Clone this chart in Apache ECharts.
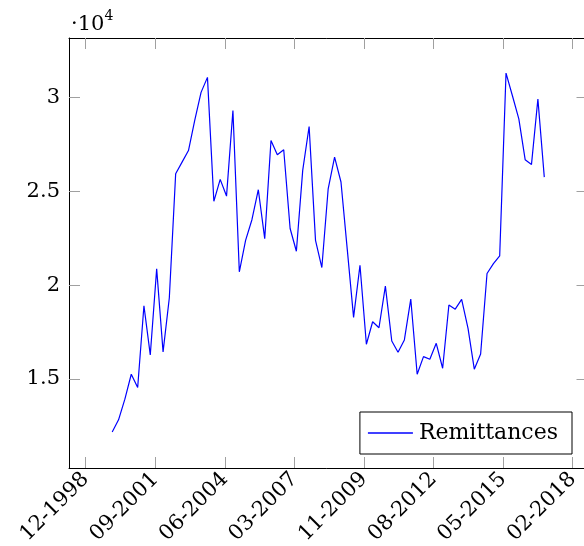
<!DOCTYPE html>
<html><head><meta charset="utf-8">
<script src="https://cdn.jsdelivr.net/npm/echarts@6/dist/echarts.min.js"></script>
<style>html,body{margin:0;padding:0;background:#fff}#c{width:584px;height:546px}</style>
</head><body><div id="c"></div>
<script>
// ---- data ----
const quarters = [
  '2000-01-01','2000-04-01','2000-07-01','2000-10-01',
  '2001-01-01','2001-04-01','2001-07-01','2001-10-01',
  '2002-01-01','2002-04-01','2002-07-01','2002-10-01',
  '2003-01-01','2003-04-01','2003-07-01','2003-10-01',
  '2004-01-01','2004-04-01','2004-07-01','2004-10-01',
  '2005-01-01','2005-04-01','2005-07-01','2005-10-01',
  '2006-01-01','2006-04-01','2006-07-01','2006-10-01',
  '2007-01-01','2007-04-01','2007-07-01','2007-10-01',
  '2008-01-01','2008-04-01','2008-07-01','2008-10-01',
  '2009-01-01','2009-04-01','2009-07-01','2009-10-01',
  '2010-01-01','2010-04-01','2010-07-01','2010-10-01',
  '2011-01-01','2011-04-01','2011-07-01','2011-10-01',
  '2012-01-01','2012-04-01','2012-07-01','2012-10-01',
  '2013-01-01','2013-04-01','2013-07-01','2013-10-01',
  '2014-01-01','2014-04-01','2014-07-01','2014-10-01',
  '2015-01-01','2015-04-01','2015-07-01','2015-10-01',
  '2016-01-01','2016-04-01','2016-07-01','2016-10-01',
  '2017-01-01'
];
const remittances = [
  12170,12820,13920,15250,
  14540,18900,16280,20870,
  16440,19330,25940,26560,
  27180,28790,30280,31080,
  24470,25640,24750,29310,
  20710,22390,23490,25090,
  22480,27710,26950,27220,
  23020,21810,26120,28460,
  22390,20940,25140,26830,
  25500,21920,18280,21060,
  16850,18050,17730,19950,
  17020,16420,17080,19260,
  15250,16190,16050,16900,
  15570,18940,18720,19240,
  17700,15520,16330,20620,
  21150,21560,31310,30100,
  28870,26690,26440,29930,
  25760
];
const seriesName = 'Remittances';
const xTickLabels = ['12-1998','09-2001','06-2004','03-2007','11-2009','08-2012','05-2015','02-2018'];
const xTickStart = '1998-12-16';
const xTickStepDays = 1000;
const yTickValues = [15000, 20000, 25000, 30000];
const yTickLabels = ['1.5', '2', '2.5', '3'];
const yMultiplierBase = '·10';
const yMultiplierExp = '4';

// ---- build ----
const DAY = 86400000;
const t0 = Date.parse(xTickStart + 'T00:00:00Z');
const xTickValues = xTickLabels.map((_, i) => t0 + i * xTickStepDays * DAY);
const xs = quarters.map(d => Date.parse(d + 'T00:00:00Z'));
const span = xs[xs.length - 1] - xs[0];
const xMin = xs[0] - 0.1 * span, xMax = xs[xs.length - 1] + 0.1 * span;
const FONT = '"DejaVu Serif", serif';
const tickStyle = { color: '#a0a0a0', width: 1 };
const lineAxis = { show: true, onZero: false, lineStyle: { color: '#000', width: 1 } };

const xLabel = v => { const i = xTickValues.findIndex(t => Math.abs(t - v) < DAY); return i >= 0 ? xTickLabels[i] : ''; };
const yLabel = v => { const i = yTickValues.findIndex(t => Math.abs(t - v) < 1); return i >= 0 ? yTickLabels[i] : ''; };

const chart = echarts.init(document.getElementById('c'), null, { renderer: 'canvas' });
chart.setOption({
  animation: false,
  backgroundColor: '#fff',
  grid: { left: 69, top: 38, width: 518.5, height: 430, containLabel: false, outerBoundsMode: 'none' },
  xAxis: [
    { type: 'value', min: xMin, max: xMax, position: 'bottom', axisLine: lineAxis,
      axisTick: { show: true, inside: true, length: 11, customValues: xTickValues, lineStyle: tickStyle },
      axisLabel: { show: true, customValues: xTickValues, rotate: 45, margin: 8, formatter: xLabel,
        fontFamily: FONT, fontSize: 21, color: '#000' },
      splitLine: { show: false } },
    { type: 'value', min: xMin, max: xMax, position: 'top', axisLine: lineAxis,
      axisTick: { show: true, inside: true, length: 11, customValues: xTickValues, lineStyle: tickStyle },
      axisLabel: { show: false }, splitLine: { show: false } }
  ],
  yAxis: [
    { type: 'value', min: 10250, max: 33180, position: 'left', axisLine: lineAxis,
      axisTick: { show: true, inside: true, length: 11, customValues: yTickValues, lineStyle: tickStyle },
      axisLabel: { show: true, customValues: yTickValues, margin: 9, formatter: yLabel,
        fontFamily: FONT, fontSize: 21, color: '#000' },
      splitLine: { show: false } },
    { type: 'value', min: 10250, max: 33180, position: 'right', axisLine: lineAxis,
      axisTick: { show: true, inside: true, length: 11, customValues: yTickValues, lineStyle: tickStyle },
      axisLabel: { show: false }, splitLine: { show: false } }
  ],
  legend: {
    data: [{ name: seriesName, icon: 'rect' }], right: 12, top: 412, orient: 'horizontal',
    itemWidth: 45, itemHeight: 1.3, itemGap: 0,
    itemStyle: { color: '#0000ff', borderWidth: 0 },
    borderColor: '#000', borderWidth: 1, borderRadius: 0, backgroundColor: '#fff',
    padding: [10, 14, 10, 8],
    textStyle: { fontFamily: FONT, fontSize: 22, color: '#000', padding: [0, 0, 0, 1] }
  },
  graphic: [
    { type: 'text', left: 71, top: 14, style: { text: yMultiplierBase, font: '21px ' + FONT, fill: '#000' } },
    { type: 'text', left: 104.5, top: 9, style: { text: yMultiplierExp, font: '14px ' + FONT, fill: '#000' } }
  ],
  series: [{
    name: seriesName, type: 'line', xAxisIndex: 0, yAxisIndex: 0,
    data: xs.map((t, i) => [t, remittances[i]]),
    symbol: 'none', showSymbol: false,
    lineStyle: { color: '#0000ff', width: 1.2 }, itemStyle: { color: '#0000ff' }
  }]
});
</script></body></html>
